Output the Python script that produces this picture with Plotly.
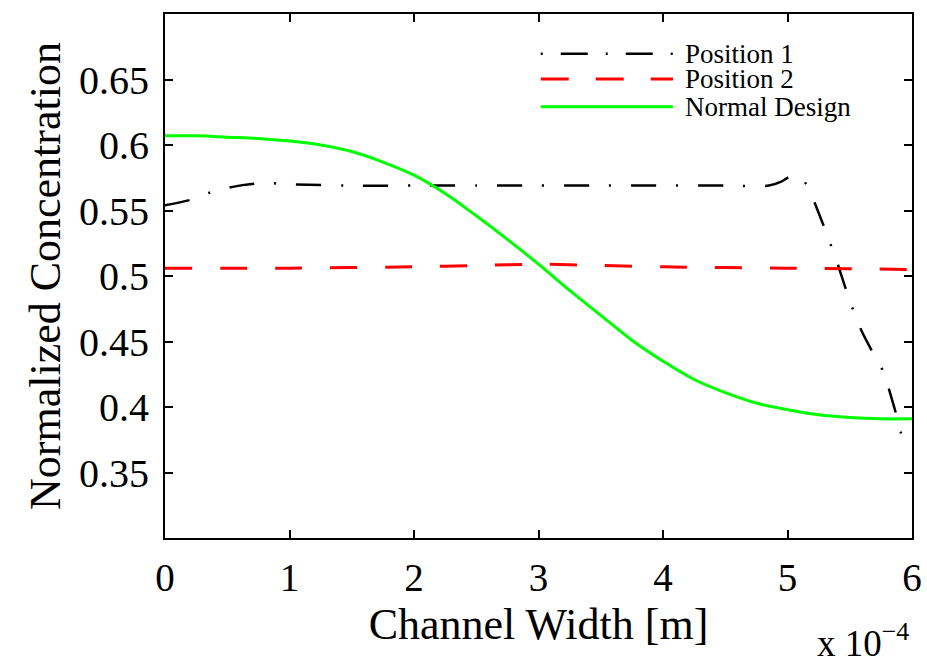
import plotly.graph_objects as go

# Data (x in units of 1e-4 m)
x_normal = [0, 0.25, 0.5, 0.75, 1.0, 1.25, 1.5, 1.75, 2.0, 2.25, 2.5, 2.75, 3.0, 3.25,
            3.5, 3.75, 4.0, 4.25, 4.5, 4.75, 5.0, 5.25, 5.5, 5.75, 6.0]
y_normal = [0.607, 0.607, 0.606, 0.605, 0.603, 0.600, 0.595, 0.587, 0.577, 0.563, 0.546,
            0.528, 0.509, 0.489, 0.470, 0.451, 0.435, 0.421, 0.411, 0.403, 0.398, 0.394,
            0.392, 0.391, 0.391]

x_pos1 = [0, 0.2, 0.4, 0.6, 0.8, 1.0, 1.5, 2.0, 2.5, 3.0, 3.5, 4.0, 4.5, 4.85, 4.95, 5.02,
          5.07, 5.12, 5.17, 5.23, 5.3, 5.4, 5.5, 5.6, 5.7, 5.77, 5.82, 5.88, 5.95]
y_pos1 = [0.554, 0.558, 0.565, 0.569, 0.571, 0.570, 0.569, 0.569, 0.569, 0.569, 0.569,
          0.569, 0.569, 0.569, 0.572, 0.576, 0.577, 0.574, 0.567, 0.553, 0.536, 0.510,
          0.481, 0.457, 0.439, 0.427, 0.412, 0.392, 0.365]

x_pos2 = [0, 1.0, 2.0, 2.5, 3.0, 3.5, 4.0, 5.0, 6.0]
y_pos2 = [0.506, 0.506, 0.507, 0.508, 0.509, 0.508, 0.507, 0.506, 0.505]

x_ticks = [0, 1, 2, 3, 4, 5, 6]
y_ticks = [0.35, 0.4, 0.45, 0.5, 0.55, 0.6, 0.65]
y_ticktext = ["0.35", "0.4", "0.45", "0.5", "0.55", "0.6", "0.65"]

legend_names = ["Position 1", "Position 2", "Normal Design"]

FONT = "Liberation Serif, Times New Roman, serif"

fig = go.Figure()
fig.add_trace(go.Scatter(x=x_pos1, y=y_pos1, mode="lines", name=legend_names[0],
                         line=dict(color="black", width=2.5, dash="25px,20px,2px,20px",
                                   shape="spline", smoothing=0.6)))
fig.add_trace(go.Scatter(x=x_pos2, y=y_pos2, mode="lines", name=legend_names[1],
                         line=dict(color="#ff0000", width=3, dash="27px,28px",
                                   shape="spline", smoothing=0.6)))
fig.add_trace(go.Scatter(x=x_normal, y=y_normal, mode="lines", name=legend_names[2],
                         line=dict(color="#00ff00", width=3, shape="spline")))

# Manual legend (long line samples)
leg_x0, leg_x1, leg_tx = 0.503, 0.680, 0.694
leg_y = [0.924, 0.876, 0.823]
leg_styles = [dict(color="black", width=2.5, dash="2px,18px,27px,18px"),
              dict(color="#ff0000", width=3, dash="28px,27px"),
              dict(color="#00ff00", width=3)]
for name, yy, st in zip(legend_names, leg_y, leg_styles):
    fig.add_shape(type="line", xref="paper", yref="paper", x0=leg_x0, x1=leg_x1,
                  y0=yy, y1=yy, line=st)
    fig.add_annotation(xref="paper", yref="paper", x=leg_tx, y=yy, text=name,
                       showarrow=False, xanchor="left", yanchor="middle",
                       font=dict(family=FONT, size=27, color="black"))

fig.add_annotation(xref="paper", yref="paper", x=0.998, y=-0.195, text="x 10<sup>−4</sup>",
                   showarrow=False, xanchor="right", yanchor="middle",
                   font=dict(family=FONT, size=37, color="black"))

fig.update_layout(
    width=927, height=663,
    margin=dict(l=165, r=15, t=14, b=125, autoexpand=False),
    paper_bgcolor="white", plot_bgcolor="white",
    showlegend=False,
    font=dict(family=FONT, color="black"),
)
fig.update_xaxes(range=[0, 6], tickvals=x_ticks, ticktext=[str(t) for t in x_ticks],
                 showline=True, mirror="ticks", linecolor="black", linewidth=2,
                 ticks="inside", ticklen=8, tickwidth=2, tickcolor="black",
                 showgrid=False, zeroline=False, tickfont=dict(size=39),
                 ticklabelstandoff=4, automargin=False,
                 title=dict(text="Channel Width [m]", font=dict(size=44), standoff=10))
fig.update_yaxes(range=[0.3, 0.7], tickvals=y_ticks, ticktext=y_ticktext,
                 showline=True, mirror="ticks", linecolor="black", linewidth=2,
                 ticks="inside", ticklen=8, tickwidth=2, tickcolor="black",
                 showgrid=False, zeroline=False, tickfont=dict(size=40),
                 ticklabelstandoff=6, automargin=False,
                 title=dict(text="Normalized Concentration", font=dict(size=44), standoff=5))

fig.write_html("out.html")
